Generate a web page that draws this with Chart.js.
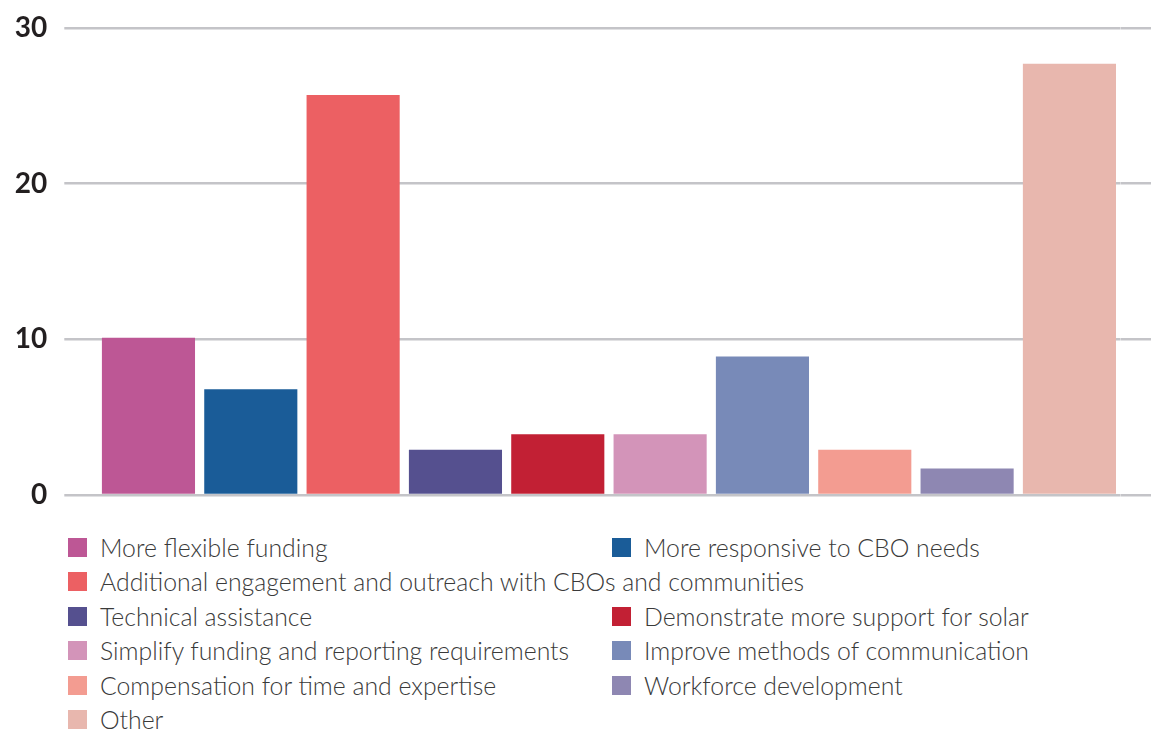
<!DOCTYPE html>
<html>
<head>
<meta charset="utf-8">
<script src="https://cdn.jsdelivr.net/npm/chart.js@4.4.1/dist/chart.umd.min.js"></script>
<style>
  body { margin: 0; background: #fff; }
  .wrap { position: relative; width: 1151px; height: 523px; }
  #legend {
    display: grid;
    grid-template-columns: 544px 1fr;
    grid-auto-rows: 34.5px;
    padding-left: 68px;
    margin-top: 7px;
    font-family: Lato, sans-serif;
    font-weight: 300;
    font-size: 24.8px;
    color: #3a3a3a;
  }
  #legend .item { display: flex; align-items: center; white-space: nowrap; }
  #legend .box { width: 19px; height: 19px; margin-right: 13px; flex: none; }
  #legend .wide { grid-column: span 2; }
</style>
</head>
<body>
<div class="wrap"><canvas id="chart"></canvas></div>
<div id="legend"></div>
<script>
// categories
const labels = [
  'More flexible funding',
  'More responsive to CBO needs',
  'Additional engagement and outreach with CBOs and communities',
  'Technical assistance',
  'Demonstrate more support for solar',
  'Simplify funding and reporting requirements',
  'Improve methods of communication',
  'Compensation for time and expertise',
  'Workforce development',
  'Other'
];
const values = [10.1, 6.8, 25.7, 2.9, 3.9, 3.9, 8.9, 2.9, 1.7, 27.7];
const colors = ['#bd5795', '#1a5c98', '#ec6063', '#55508f', '#c22034',
                '#d394b9', '#788ab8', '#f39c91', '#8e87b2', '#e8b7ae'];
const yTicks = [0, 10, 20, 30];

const gridColor = '#c4c4c8';

var ctx = document.getElementById('chart').getContext('2d');
var myChart = new Chart(ctx, {
  type: 'bar',
  data: {
    labels: labels,
    datasets: [{
      data: values,
      backgroundColor: colors,
      borderWidth: 0,
      barPercentage: 1,
      categoryPercentage: 0.91
    }]
  },
  options: {
    responsive: true,
    maintainAspectRatio: false,
    animation: false,
    layout: { padding: 0 },
    plugins: { legend: { display: false }, tooltip: { enabled: false } },
    scales: {
      x: { display: false, offset: true },
      y: {
        min: 0, max: 30,
        afterBuildTicks: s => { s.ticks = yTicks.map(v => ({ value: v })); },
        afterFit: s => { s.width = 97.3; },
        border: { display: false },
        grid: { color: gridColor, lineWidth: 2.5, tickLength: 33 },
        ticks: {
          padding: 17,
          color: '#231f20',
          font: { family: 'Lato, sans-serif', size: 28, weight: 'bold', lineHeight: 0.786 }
        }
      },
      y2: {
        position: 'right',
        min: 0, max: 30,
        afterBuildTicks: s => { s.ticks = yTicks.map(v => ({ value: v })); },
        afterFit: s => { s.width = 30.4; },
        border: { display: false },
        grid: { color: gridColor, lineWidth: 2.5, tickLength: 31, drawOnChartArea: false },
        ticks: { display: false }
      }
    }
  }
});

// LEGEND
const legend = document.getElementById('legend');
const measure = document.createElement('canvas').getContext('2d');
measure.font = '300 24.8px Lato, sans-serif';
labels.forEach((name, i) => {
  const item = document.createElement('div');
  item.className = 'item';
  if (measure.measureText(name).width + 32 > 544) item.classList.add('wide');
  const box = document.createElement('span');
  box.className = 'box';
  box.style.background = colors[i];
  const txt = document.createElement('span');
  txt.textContent = name;
  item.appendChild(box);
  item.appendChild(txt);
  legend.appendChild(item);
});
</script>
</body>
</html>
